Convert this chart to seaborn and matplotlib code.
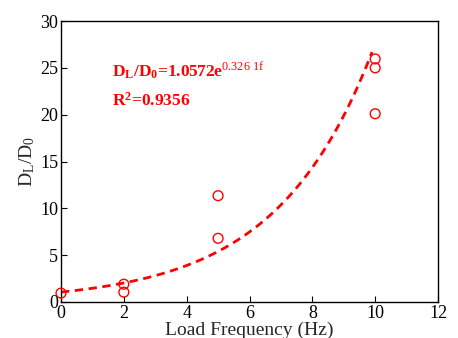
import numpy as np
import pandas as pd
import matplotlib
matplotlib.use("Agg")
import matplotlib.pyplot as plt
import seaborn as sns

# Data
freq = [0, 2, 2, 5, 5, 10, 10, 10]
ratio = [0.95, 1.9, 1.05, 11.35, 6.8, 25.95, 25.0, 20.1]
fit_a = 1.0572
fit_b = 0.3261
fit_x_end = 9.9
x_ticks = [0, 2, 4, 6, 8, 10, 12]
y_ticks = [0, 5, 10, 15, 20, 25, 30]

sns.set_theme(style="ticks")
plt.rcParams['font.family'] = ['Liberation Serif', 'DejaVu Serif']
plt.rcParams['mathtext.fontset'] = 'custom'
plt.rcParams['mathtext.rm'] = 'Liberation Serif'
plt.rcParams['mathtext.it'] = 'Liberation Serif'
plt.rcParams['mathtext.bf'] = 'Liberation Serif:bold'

fig = plt.figure(figsize=(4.58, 3.38), dpi=100)
ax = fig.add_axes([61 / 458, 1 - 302 / 338, (438 - 61) / 458, (302 - 21) / 338])

df = pd.DataFrame({"f": freq, "r": ratio})
fx = np.linspace(0, fit_x_end, 200)
fit_df = pd.DataFrame({"f": fx, "r": fit_a * np.exp(fit_b * fx)})

sns.lineplot(data=fit_df, x="f", y="r", ax=ax, color="#ff0000", lw=2.0,
             dashes=False, linestyle=(0, (3.0, 2.0)))
sns.scatterplot(data=df, x="f", y="r", ax=ax, marker="o", s=50,
                facecolor="none", edgecolor="#ff0000", linewidth=1.0, clip_on=False, zorder=5)

ax.set_xlim(0, 12)
ax.set_ylim(0, 30)
ax.set_xticks(x_ticks)
ax.set_yticks(y_ticks)
ax.tick_params(direction="in", length=4, width=0.8, labelsize=13, pad=2,
               top=False, right=False, colors="black")
for s in ax.spines.values():
    s.set_linewidth(1.0)
    s.set_color("black")
    s.set_visible(True)

ax.set_xlabel("Load Frequency (Hz)", fontsize=14, labelpad=0)
ax.set_ylabel(r"D$_\mathrm{L}$/D$_0$", fontsize=14, labelpad=2)

ax.text(1.62, 24.0, r"D$_\mathbf{L}$/D$_\mathbf{0}$=1.0572e$^\mathrm{0.326\ 1f}$",
        color="#ff0000", fontsize=12.5, fontweight="bold")
ax.text(1.62, 21.0, r"R$^\mathbf{2}$=0.9356", color="#ff0000", fontsize=12.5,
        fontweight="bold")

fig.savefig("out.png", dpi=100)
